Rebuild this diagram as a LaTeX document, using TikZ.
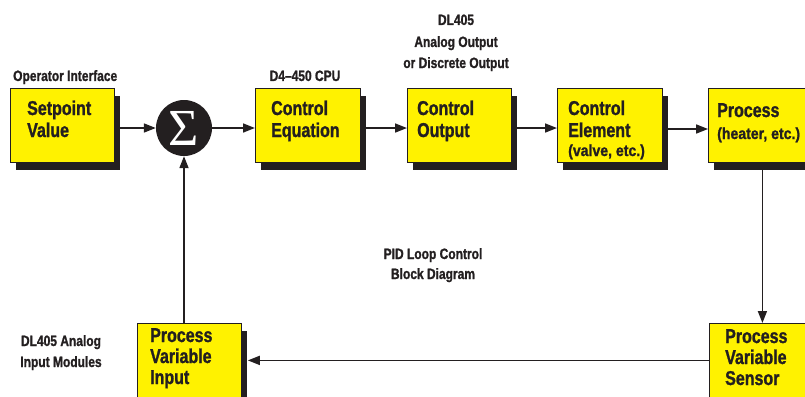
\documentclass[tikz,border=0pt]{standalone}
\usepackage{fontspec}
\setmainfont{Liberation Sans}
\newfontfamily\cond{Liberation Sans}[FakeStretch=0.8,FakeBold=1.2]
\newfontfamily\condp{Liberation Sans}[FakeStretch=0.88,FakeBold=1.2]
\newfontfamily\sigfont{Liberation Serif}
\usetikzlibrary{arrows.meta,shadows,calc}
\definecolor{blky}{RGB}{255,242,0}
\definecolor{ink}{RGB}{35,31,32}
\begin{document}
\begin{tikzpicture}[x=1pt,y=-1pt,
 blk/.style={draw=ink, line width=0.8pt, fill=blky, inner sep=0pt, anchor=north west,
   general shadow={shadow xshift=6pt, shadow yshift=-8pt, fill=ink}},
 wire/.style={draw=ink, line width=1.7pt, -{Triangle[length=12pt,width=9pt]}},
 big/.style={font=\cond\bfseries\fontsize{20}{22}\selectfont, text=ink, inner sep=0pt, anchor=base west},
 small/.style={font=\condp\bfseries\fontsize{16}{18}\selectfont, text=ink, inner sep=0pt, anchor=base west},
 lab/.style={font=\cond\bfseries\fontsize{15}{17}\selectfont, text=ink, inner sep=0pt, anchor=base},
]
\useasboundingbox (0,0) rectangle (805,396);

% blocks
\node[blk, minimum width=104pt, minimum height=74pt] (sp)  at (10,88)  {};
\node[blk, minimum width=105pt, minimum height=74pt] (ce)  at (255,88) {};
\node[blk, minimum width=104pt, minimum height=74pt] (co)  at (407,88) {};
\node[blk, minimum width=105pt, minimum height=74pt] (cel) at (557,88) {};
\node[blk, minimum width=110pt, minimum height=74pt] (pr)  at (708,88) {};
\node[blk, minimum width=104pt, minimum height=74pt] (pvi) at (137,323) {};
\node[blk, minimum width=106pt, minimum height=80pt] (pvs) at (709,323) {};

% summing junction
\node[circle, fill=ink, minimum size=56pt, inner sep=0pt] (sig) at (184,128)
  {\sigfont\fontsize{52}{52}\selectfont\color{white}Σ};

% block texts
\node[big] (sp1) at (27,115) {Setpoint};
\node[big] (sp2) at (27,137) {Value};
\node[big] (ce1) at (271,115) {Control};
\node[big] (ce2) at (271,137) {Equation};
\node[big] (co1) at (417,115) {Control};
\node[big] (co2) at (417,137) {Output};
\node[big] (cel1) at (568,115) {Control};
\node[big] (cel2) at (568,137) {Element};
\node[small] (cel3) at (568,156) {(valve, etc.)};
\node[big] (pr1) at (717,117) {Process};
\node[small] (pr2) at (717,139) {(heater, etc.)};
\node[big] (pvi1) at (150,342) {Process};
\node[big] (pvi2) at (150,363) {Variable};
\node[big] (pvi3) at (150,384) {Input};
\node[big] (pvs1) at (725,343) {Process};
\node[big] (pvs2) at (725,364) {Variable};
\node[big] (pvs3) at (725,385) {Sensor};

% labels
\node[lab, anchor=base west] (l1) at (13,81) {Operator Interface};
\node[lab] (l2) at (305,81) {D4–450 CPU};
\node[lab] (l3a) at (456,25) {DL405};
\node[lab] (l3b) at (456,47) {Analog Output};
\node[lab] (l3c) at (456,68) {or Discrete Output};
\node[lab] (l4a) at (433,259) {PID Loop Control};
\node[lab] (l4b) at (433,279) {Block Diagram};
\node[lab] (l5a) at (61,346) {DL405 Analog};
\node[lab] (l5b) at (61,367) {Input Modules};

% connectors
\draw[wire] (sig.west -| sp.east) -- (sig.west);
\draw[wire] (sig.east) -- (sig.east -| ce.west);
\draw[wire] (sig.east -| ce.east) -- (sig.east -| co.west);
\draw[wire] (sig.east -| co.east) -- (sig.east -| cel.west);
\draw[wire] ([yshift=-1pt]sig.east -| cel.east) -- ([yshift=-1pt]sig.east -| pr.west);
\draw[wire] (pr.south -| pvs.north) -- (pvs.north);
\draw[wire] (pvs.west |- pvi.east) -- ([xshift=6pt]pvi.east);
\draw[wire] (sig |- pvi.north) -- (sig.south);
\end{tikzpicture}
\end{document}
